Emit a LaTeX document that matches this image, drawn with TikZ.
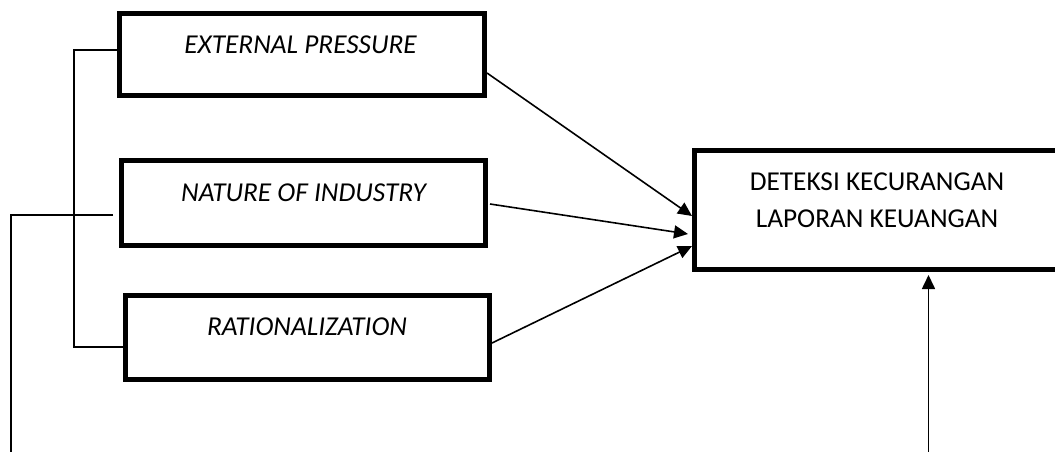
\documentclass[tikz,border=0pt]{standalone}
\usepackage{fontspec}
\setmainfont{Carlito}
\usetikzlibrary{arrows.meta,calc}
\tikzset{
  box/.style={draw=black, line width=5pt, rectangle, inner sep=0pt, outer sep=0pt, fill=white},
  lbl/.style={inner sep=0pt, font=\fontsize{27.3}{37}\selectfont\itshape},
  tlbl/.style={inner sep=0pt, align=center, font=\fontsize{27.3}{37}\selectfont},
  conn/.style={draw=black, line width=1.6pt},
  arr/.style={conn, -{Triangle[length=14pt,width=13pt]}}
}
\begin{document}
\begin{tikzpicture}[x=1pt,y=-1pt]
\useasboundingbox (0,0) rectangle (1055,452);
\clip (0,0) rectangle (1055,452);
% coordinates for free ends
\coordinate (bk) at (74,50);
\coordinate (nb) at (11,452);
\coordinate (vb) at (928.5,452);
% boxes
\node[box, minimum width=365pt, minimum height=82pt] (ep) at (302,54.5) {};
\node[box, minimum width=364pt, minimum height=84.5pt] (ni) at (303.5,202.75) {};
\node[box, minimum width=364pt, minimum height=84pt] (ra) at (307.5,337.5) {};
\node[box, minimum width=365pt, minimum height=119pt] (tgt) at (877,210) {};
% connectors
\draw[conn] ($(ep.west)+(0,-4.5)$) -- (bk) |- ($(ra.west)+(-2.5,9.5)$);
\draw[conn] ($(ni.west)+(-8.5,12.25)$) -| (nb);
\draw[arr] ($(ep.east)+(2.5,18.5)$) -- ($(tgt.west)+(-2.5,6)$);
\draw[arr] ($(ni.east)+(4.5,1.25)$) -- ($(tgt.west)+(-6.5,24)$);
\draw[arr] ($(ra.east)+(2.5,5.5)$) -- ($(tgt.west)+(-2.5,36)$);
\draw[arr] (vb) -- ($(tgt.south -| vb)+(0,5.5)$);
% labels
\node[lbl] (ept) at ($(ep.center)+(-1.5,-10)$) {EXTERNAL PRESSURE};
\node[lbl] (nit) at ($(ni.center)+(0,-9.75)$) {NATURE OF INDUSTRY};
\node[lbl] (rat) at ($(ra.center)+(-0.5,-10.5)$) {RATIONALIZATION};
\node[tlbl] (tgtt) at ($(tgt.center)+(0,-10)$) {DETEKSI KECURANGAN\\LAPORAN KEUANGAN};
\end{tikzpicture}
\end{document}
